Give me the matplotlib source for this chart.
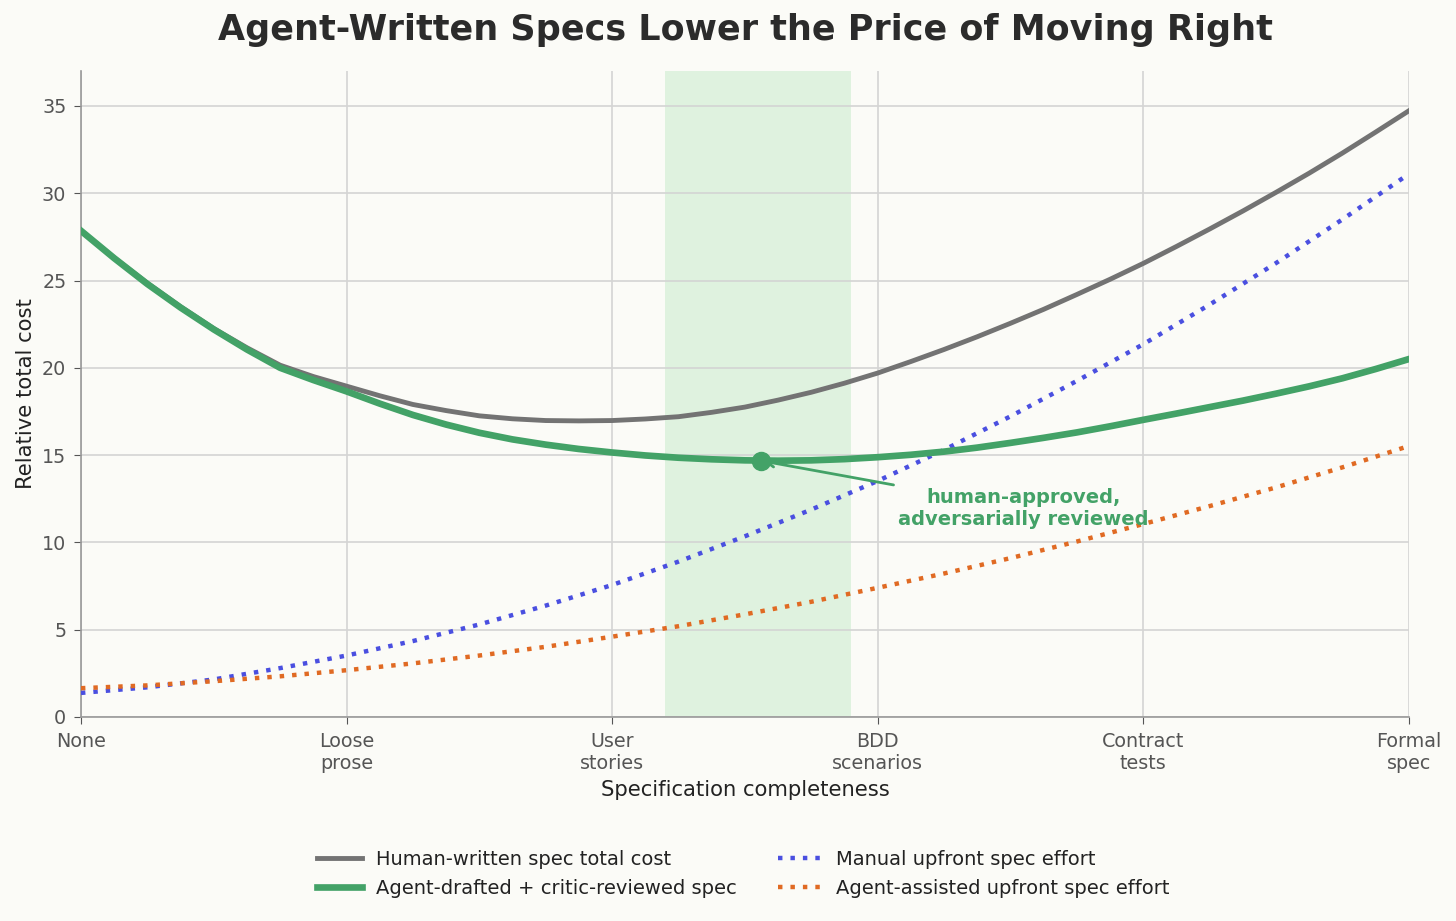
import matplotlib
matplotlib.use("Agg")
import matplotlib.pyplot as plt

plt.rcParams["font.family"] = ["DejaVu Sans"]

# x positions of the samples (0 = None ... 5 = Formal spec)
x_fine = [0, 0.125, 0.25, 0.375, 0.5, 0.625, 0.75, 0.875, 1, 1.125, 1.25, 1.375, 1.5, 1.625,
          1.75, 1.875, 2, 2.125, 2.25, 2.375, 2.5, 2.625, 2.75, 2.875, 3, 3.125, 3.25, 3.375,
          3.5, 3.625, 3.75, 3.875, 4, 4.125, 4.25, 4.375, 4.5, 4.625, 4.75, 4.875, 5]
x = [0, 0.25, 0.5, 0.75, 1, 1.25, 1.5, 1.75, 2, 2.25, 2.5,
     2.75, 3, 3.25, 3.5, 3.75, 4, 4.25, 4.5, 4.75, 5]

human_total = [27.85, 26.3, 24.85, 23.5, 22.25, 21.15, 20.15, 19.5, 18.95, 18.4, 17.9, 17.55, 17.25, 17.08,
               16.98, 16.96, 16.98, 17.07, 17.2, 17.45, 17.75, 18.15, 18.6, 19.12, 19.7, 20.36, 21.05, 21.78,
               22.55, 23.35, 24.2, 25.07, 25.98, 26.95, 27.95, 28.98, 30.05, 31.15, 32.3, 33.5, 34.72]
agent_total = [27.85, 26.28, 24.8, 23.45, 22.2, 21.05, 20.0, 19.3, 18.65, 17.95, 17.3, 16.75, 16.28, 15.9,
               15.6, 15.35, 15.15, 14.98, 14.85, 14.76, 14.7, 14.68, 14.7, 14.77, 14.88, 15.02, 15.2, 15.43,
               15.7, 15.99, 16.3, 16.65, 17.02, 17.38, 17.75, 18.12, 18.52, 18.94, 19.4, 19.93, 20.5]
manual_upfront = [1.38, 1.7, 2.15, 2.8, 3.52, 4.35, 5.3, 6.38, 7.56, 8.9, 10.35,
                  11.88, 13.52, 15.3, 17.22, 19.25, 21.35, 23.62, 26.0, 28.5, 31.1]
agent_upfront = [1.65, 1.81, 2.05, 2.33, 2.68, 3.07, 3.52, 4.02, 4.6, 5.2, 5.88,
                 6.6, 7.4, 8.22, 9.1, 10.05, 11.05, 12.08, 13.15, 14.3, 15.52]

stages = ["None", "Loose\nprose", "User\nstories", "BDD\nscenarios", "Contract\ntests", "Formal\nspec"]
sweet_spot = (2.2, 2.9)
opt_x, opt_y = 2.56, 14.68

bg = "#fbfbf7"
c_gray = "#737373"
c_green = "#43a267"
c_blue = "#4a4fe0"
c_orange = "#e06a23"

fig = plt.figure(figsize=(14.56, 9.21), dpi=100, facecolor=bg)
ax = fig.add_axes([0.0556, 0.2215, 0.912, 0.7014], facecolor=bg)

ax.axvspan(*sweet_spot, color="#dff2df", zorder=0, lw=0)

ax.plot(x_fine, human_total, color=c_gray, lw=3.5, label="Human-written spec total cost", zorder=3,
        solid_joinstyle="round")
ax.plot(x_fine, agent_total, color=c_green, lw=4.8, label="Agent-drafted + critic-reviewed spec", zorder=4,
        solid_joinstyle="round")
ax.plot(x, manual_upfront, color=c_blue, lw=3.2, ls=(0, (1, 1.8)), label="Manual upfront spec effort", zorder=3)
ax.plot(x, agent_upfront, color=c_orange, lw=3.2, ls=(0, (1, 1.8)), label="Agent-assisted upfront spec effort",
        zorder=3)

ax.plot([opt_x], [opt_y], "o", color=c_green, ms=13, zorder=5)
ax.annotate("human-approved,\nadversarially reviewed", xy=(opt_x, opt_y), xytext=(3.55, 11.93),
            ha="center", va="center", color=c_green, fontsize=14, fontweight="bold",
            arrowprops=dict(arrowstyle="->", color=c_green, lw=2), zorder=6)

ax.set_xlim(0, 5)
ax.set_ylim(0, 37)
ax.set_xticks(range(len(stages)))
ax.set_xticklabels(stages)
ax.set_yticks(range(0, 36, 5))
ax.tick_params(colors="#555555", labelsize=13.8, length=5, pad=5.5)
ax.grid(True, color="#d4d4d4", lw=1.2)
ax.set_axisbelow(True)
for s in ["top", "right"]:
    ax.spines[s].set_visible(False)
for s in ["left", "bottom"]:
    ax.spines[s].set_color("#999999")
    ax.spines[s].set_linewidth(1.2)

ax.set_xlabel("Specification completeness", fontsize=15.2, color="#222222", labelpad=5)
ax.set_ylabel("Relative total cost", fontsize=15.2, color="#222222", labelpad=4)
fig.suptitle("Agent-Written Specs Lower the Price of Moving Right", fontsize=25.2, fontweight="bold",
             color="#2b2b2b", x=0.512, y=0.967, va="center")

fig.legend(loc="center", bbox_to_anchor=(0.5107, 0.051), ncol=2, frameon=False, fontsize=14,
           handlelength=2.3, handletextpad=0.72, columnspacing=2.1, labelcolor="#222222")

fig.savefig("out.png", dpi=100, facecolor=bg)
